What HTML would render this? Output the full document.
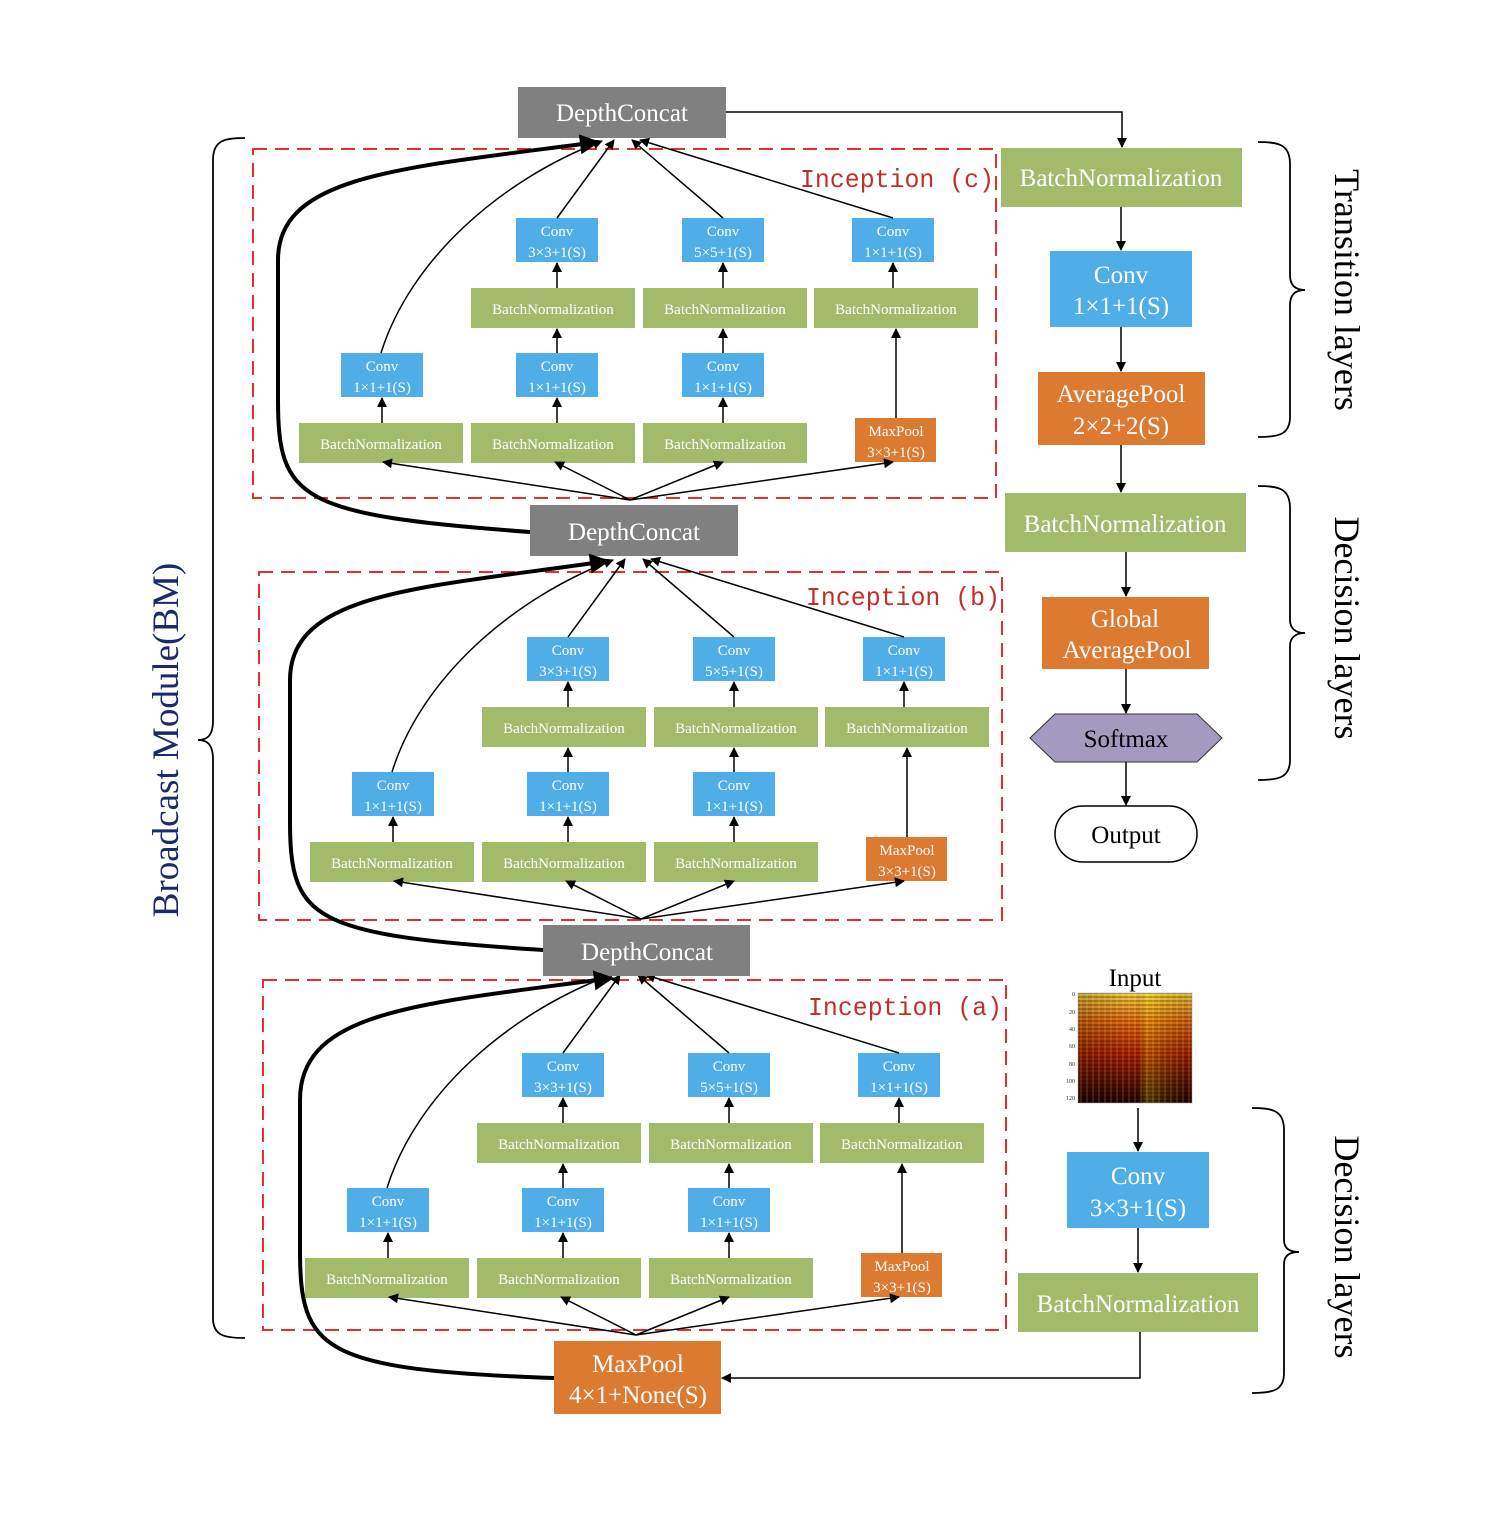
<!DOCTYPE html>
<html><head><meta charset="utf-8"><style>
html,body{margin:0;padding:0;background:#fff}
svg{display:block}
text{font-family:"Liberation Serif",serif}
.w{fill:#fff}
.s{font-size:15px}
</style></head><body>
<svg width="1486" height="1516" viewBox="0 0 1486 1516" xmlns="http://www.w3.org/2000/svg">
<defs>
<marker id="a" viewBox="0 0 10 10" refX="9" refY="5" markerWidth="10" markerHeight="10" markerUnits="userSpaceOnUse" orient="auto"><path d="M0,0 L10,5 L0,10 z" fill="#000"/></marker>
<marker id="t" viewBox="0 0 10 10" refX="9" refY="5" markerWidth="22" markerHeight="20" markerUnits="userSpaceOnUse" orient="auto"><path d="M0,0 L10,5 L0,10 z" fill="#000"/></marker>
<linearGradient id="sp" x1="0" y1="0" x2="0" y2="1"><stop offset="0" stop-color="#f7d040"/><stop offset="0.25" stop-color="#e86a10"/><stop offset="0.55" stop-color="#b02000"/><stop offset="1" stop-color="#200000"/></linearGradient>
<linearGradient id="sp2" x1="0" y1="0" x2="1" y2="0"><stop offset="0" stop-color="#000" stop-opacity="0.2"/><stop offset="0.5" stop-color="#000" stop-opacity="0"/><stop offset="0.6" stop-color="#ff0" stop-opacity="0.25"/><stop offset="1" stop-color="#000" stop-opacity="0.1"/></linearGradient>
<pattern id="st" width="6" height="4" patternUnits="userSpaceOnUse"><rect width="6" height="2" fill="#000" opacity="0.25"/><rect x="0" y="0" width="2" height="4" fill="#ff8" opacity="0.12"/></pattern>
<g id="blk">
<g fill="#4faee8">
<rect x="516" y="218" width="82" height="44"/><rect x="682" y="218" width="82" height="44"/><rect x="852" y="218" width="82" height="44"/>
<rect x="341" y="353" width="82" height="44"/><rect x="516" y="353" width="82" height="44"/><rect x="682" y="353" width="82" height="44"/>
</g>
<g fill="#a2bb6a">
<rect x="471" y="288" width="164" height="40"/><rect x="643" y="288" width="164" height="40"/><rect x="814" y="288" width="164" height="40"/>
<rect x="299" y="423" width="164" height="40"/><rect x="471" y="423" width="164" height="40"/><rect x="643" y="423" width="164" height="40"/>
</g>
<rect x="855" y="418" width="81" height="44" fill="#dd7a32"/>
<g class="w s" text-anchor="middle">
<text x="557" y="236">Conv</text><text x="557" y="257">3×3+1(S)</text>
<text x="723" y="236">Conv</text><text x="723" y="257">5×5+1(S)</text>
<text x="893" y="236">Conv</text><text x="893" y="257">1×1+1(S)</text>
<text x="382" y="371">Conv</text><text x="382" y="392">1×1+1(S)</text>
<text x="557" y="371">Conv</text><text x="557" y="392">1×1+1(S)</text>
<text x="723" y="371">Conv</text><text x="723" y="392">1×1+1(S)</text>
<text x="553" y="314">BatchNormalization</text><text x="725" y="314">BatchNormalization</text><text x="896" y="314">BatchNormalization</text>
<text x="381" y="449">BatchNormalization</text><text x="553" y="449">BatchNormalization</text><text x="725" y="449">BatchNormalization</text>
<text x="896" y="436">MaxPool</text><text x="896" y="457">3×3+1(S)</text>
</g>
<g stroke="#000" stroke-width="1.5" fill="none" marker-end="url(#a)">
<line x1="557" y1="288" x2="557" y2="263"/><line x1="723" y1="288" x2="723" y2="263"/><line x1="893" y1="288" x2="893" y2="263"/>
<line x1="557" y1="423" x2="557" y2="398"/><line x1="723" y1="423" x2="723" y2="398"/><line x1="382" y1="423" x2="382" y2="398"/>
<line x1="557" y1="353" x2="557" y2="329"/><line x1="723" y1="353" x2="723" y2="329"/><line x1="896" y1="418" x2="896" y2="329"/>
<line x1="630" y1="500" x2="383" y2="462"/><line x1="630" y1="500" x2="555" y2="462"/><line x1="630" y1="500" x2="723" y2="462"/><line x1="630" y1="500" x2="893" y2="462"/>
<line x1="557" y1="218" x2="614" y2="140"/><line x1="723" y1="218" x2="632" y2="140"/><line x1="893" y1="218" x2="640" y2="140"/>
<path d="M381,353 C410,260 500,180 602,141"/>
</g>
</g>
</defs>

<g fill="none" stroke="#e03030" stroke-width="2" stroke-dasharray="14,8">
<rect x="253" y="149" width="743" height="349"/>
<rect x="259" y="572" width="743" height="348"/>
<rect x="263" y="980" width="743" height="350"/>
</g>
<g fill="#c0302a" font-size="26">
<text x="800" y="187" textLength="194" lengthAdjust="spacingAndGlyphs" style="font-family:'Liberation Mono',monospace">Inception (c)</text>
<text x="806" y="605" textLength="194" lengthAdjust="spacingAndGlyphs" style="font-family:'Liberation Mono',monospace">Inception (b)</text>
<text x="808" y="1015" textLength="194" lengthAdjust="spacingAndGlyphs" style="font-family:'Liberation Mono',monospace">Inception (a)</text>
</g>

<use href="#blk"/>
<use href="#blk" transform="translate(11,419)"/>
<use href="#blk" transform="translate(6,835)"/>

<g fill="#808080">
<rect x="518" y="87" width="208" height="51"/>
<rect x="530" y="505" width="208" height="51"/>
<rect x="543" y="925" width="207" height="51"/>
</g>
<g class="w" font-size="25" text-anchor="middle">
<text x="622" y="121">DepthConcat</text>
<text x="634" y="540">DepthConcat</text>
<text x="647" y="960">DepthConcat</text>
</g>

<g fill="none" stroke="#000" stroke-width="4" marker-end="url(#t)">
<path d="M530,532 C300,515 278,500 278,400 L278,260 C278,175 400,168 598,142"/>
<path d="M543,950 C310,935 290,920 290,820 L290,680 C290,592 420,588 608,561"/>
<path d="M554,1378 C320,1370 300,1350 300,1250 L300,1100 C300,1010 420,1004 612,978"/>
</g>

<rect x="554" y="1341" width="167" height="73" fill="#dd7a32"/>
<g class="w" font-size="25" text-anchor="middle"><text x="638" y="1372">MaxPool</text><text x="638" y="1403">4×1+None(S)</text></g>

<rect x="1001" y="148" width="241" height="59" fill="#a2bb6a"/>
<rect x="1050" y="251" width="142" height="76" fill="#4faee8"/>
<rect x="1038" y="372" width="167" height="73" fill="#dd7a32"/>
<rect x="1005" y="493" width="241" height="59" fill="#a2bb6a"/>
<rect x="1042" y="597" width="167" height="72" fill="#dd7a32"/>
<polygon points="1030,738 1055,714 1197,714 1222,738 1197,762 1055,762" fill="#a49ac0" stroke="#333" stroke-width="1"/>
<rect x="1055" y="806" width="142" height="56" rx="28" fill="#fff" stroke="#000" stroke-width="1.5"/>
<rect x="1067" y="1152" width="142" height="76" fill="#4faee8"/>
<rect x="1018" y="1273" width="240" height="59" fill="#a2bb6a"/>
<g class="w" font-size="25" text-anchor="middle">
<text x="1121" y="186">BatchNormalization</text>
<text x="1121" y="283">Conv</text><text x="1121" y="314">1×1+1(S)</text>
<text x="1121" y="402">AveragePool</text><text x="1121" y="434">2×2+2(S)</text>
<text x="1125" y="532">BatchNormalization</text>
<text x="1125" y="627">Global</text><text x="1127" y="658">AveragePool</text>
<text x="1138" y="1184">Conv</text><text x="1138" y="1216">3×3+1(S)</text>
<text x="1138" y="1312">BatchNormalization</text>
</g>
<g font-size="25" text-anchor="middle" fill="#000">
<text x="1126" y="747">Softmax</text>
<text x="1126" y="843">Output</text>
<text x="1135" y="986">Input</text>
</g>

<rect x="1078" y="993" width="114" height="110" fill="url(#sp)"/>
<rect x="1078" y="993" width="114" height="110" fill="url(#sp2)"/>
<rect x="1078" y="993" width="114" height="110" fill="url(#st)"/>
<rect x="1078" y="993" width="114" height="110" fill="none" stroke="#999" stroke-width="0.5"/>
<g font-size="6" fill="#333" text-anchor="end" style="font-family:'Liberation Sans',sans-serif">
<text x="1075" y="996">0</text><text x="1075" y="1014">20</text><text x="1075" y="1031">40</text><text x="1075" y="1048">60</text><text x="1075" y="1066">80</text><text x="1075" y="1083">100</text><text x="1075" y="1100">120</text>
</g>

<g stroke="#000" stroke-width="1.5" fill="none" marker-end="url(#a)">
<polyline points="726,112 1122,112 1122,147"/>
<line x1="1121" y1="207" x2="1121" y2="250"/>
<line x1="1121" y1="327" x2="1121" y2="371"/>
<line x1="1121" y1="445" x2="1121" y2="492"/>
<line x1="1126" y1="552" x2="1126" y2="596"/>
<line x1="1126" y1="669" x2="1126" y2="713"/>
<line x1="1126" y1="762" x2="1126" y2="805"/>
<line x1="1138" y1="1108" x2="1138" y2="1151"/>
<line x1="1138" y1="1228" x2="1138" y2="1272"/>
<polyline points="1140,1332 1140,1378 722,1378"/>
</g>

<g fill="none" stroke="#000" stroke-width="1.8">
<path d="M245,138 C225,138 213,140 213,160 L213,720 C213,735 208,740 198,740 C208,740 213,745 213,760 L213,1318 C213,1336 225,1338 245,1338"/>
<path d="M1258,142 C1278,142 1290,144 1290,164 L1290,275 C1290,285 1295,290 1305,290 C1295,290 1290,295 1290,305 L1290,417 C1290,435 1278,437 1258,437"/>
<path d="M1258,486 C1278,486 1290,488 1290,508 L1290,620 C1290,628 1295,633 1305,633 C1295,633 1290,638 1290,646 L1290,760 C1290,778 1278,780 1258,780"/>
<path d="M1252,1108 C1272,1108 1284,1110 1284,1130 L1284,1240 C1284,1248 1289,1252 1299,1252 C1289,1252 1284,1256 1284,1264 L1284,1373 C1284,1391 1272,1393 1252,1393"/>
</g>
<g font-size="36" fill="#000" text-anchor="middle">
<text transform="translate(1335,290) rotate(90)">Transition layers</text>
<text transform="translate(1335,628) rotate(90)">Decision layers</text>
<text transform="translate(1335,1247) rotate(90)">Decision layers</text>
</g>
<text transform="translate(178,740) rotate(-90)" font-size="37" fill="#1a2a6a" text-anchor="middle">Broadcast Module(BM)</text>
</svg>
</body></html>
